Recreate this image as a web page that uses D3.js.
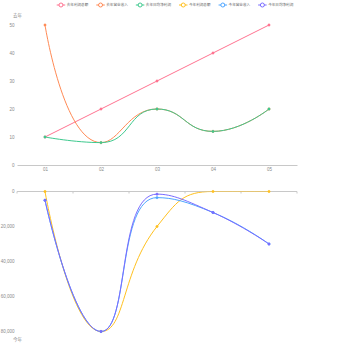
<!DOCTYPE html>
<html><head><meta charset="utf-8">
<script src="https://cdn.jsdelivr.net/npm/d3@7"></script>
<style>html,body{margin:0;padding:0;background:#fff;}svg{display:block;font-family:"Noto Sans CJK SC","Noto Sans",sans-serif;}</style>
</head><body>
<svg id="c" width="350" height="350"></svg>
<script>
const categories = ["01","02","03","04","05"];
const seriesNames = ["去年利润总额","去年营业收入","去年日均净利润","今年利润总额","今年营业收入","今年日均净利润"];
const lastProfit = [10,20,30,40,50];
const lastRevenue = [50,8,20,12,20];
const lastDailyNet = [10,8,20,12,20];
const thisProfit = [0,80000,20000,0,0];
const thisRevenue = [5000,80000,3500,12000,30000];
const thisDailyNet = [5000,80000,1500,12000,30000];
const topTicks = [0,10,20,30,40,50];
const bottomTicks = [0,20000,40000,60000,80000];
const colors = ["#ff7391","#ff8a55","#3ec98e","#ffc01f","#4ea6ff","#7a6cff"];

const svg = d3.select("#c");
const L = 17, R = 297;
const x = d3.scalePoint().domain(categories).range([L,R]).padding(0.5);
const xb = d3.scaleBand().domain(categories).range([L,R]);
const yTop = d3.scaleLinear().domain([0,50]).range([165,25]);
const yBot = d3.scaleLinear().domain([0,80000]).range([191.5,331.5]);
const labelColor = "#8a8a8a", axisColor = "#c8c8c8";

// ECharts-like smooth path
function ecPath(pts, smooth){
  const p = d3.path();
  let prevX, prevY, cpx0, cpy0, cpx1, cpy1, nextCpx0, nextCpy0;
  const n = pts.length;
  for(let k=0;k<n;k++){
    const [x0,y0] = pts[k];
    if(k===0){ p.moveTo(x0,y0); cpx0=x0; cpy0=y0; }
    else if(!smooth){ p.lineTo(x0,y0); }
    else {
      if(k===n-1){ cpx1=x0; cpy1=y0; }
      else {
        const [nx,ny] = pts[k+1];
        let vx = nx-prevX, vy = ny-prevY;
        const dx0=x0-prevX, dx1=nx-x0, dy0=y0-prevY, dy1=ny-y0;
        const lp=Math.hypot(dx0,dy0), ln=Math.hypot(dx1,dy1);
        const r = ln/(ln+lp);
        nextCpx0 = x0+vx*smooth*r; nextCpy0 = y0+vy*smooth*r;
        nextCpx0 = Math.min(nextCpx0, Math.max(nx,x0)); nextCpy0 = Math.min(nextCpy0, Math.max(ny,y0));
        nextCpx0 = Math.max(nextCpx0, Math.min(nx,x0)); nextCpy0 = Math.max(nextCpy0, Math.min(ny,y0));
        vx = nextCpx0-x0; vy = nextCpy0-y0;
        cpx1 = x0 - vx*lp/ln; cpy1 = y0 - vy*lp/ln;
        cpx1 = Math.min(cpx1, Math.max(prevX,x0)); cpy1 = Math.min(cpy1, Math.max(prevY,y0));
        cpx1 = Math.max(cpx1, Math.min(prevX,x0)); cpy1 = Math.max(cpy1, Math.min(prevY,y0));
        vx = x0-cpx1; vy = y0-cpy1;
        nextCpx0 = x0 + vx*ln/lp; nextCpy0 = y0 + vy*ln/lp;
      }
      p.bezierCurveTo(cpx0,cpy0,cpx1,cpy1,x0,y0);
      cpx0=nextCpx0; cpy0=nextCpy0;
    }
    prevX=x0; prevY=y0;
  }
  return p.toString();
}

// clip paths
const defs = svg.append("defs");
defs.append("clipPath").attr("id","clipTop").append("rect").attr("x",L).attr("y",yTop(50)-3).attr("width",R-L+2).attr("height",yTop(0)-yTop(50)+3);
defs.append("clipPath").attr("id","clipBot").append("rect").attr("x",L).attr("y",yBot(0)).attr("width",R-L+2).attr("height",yBot(80000)-yBot(0)+3);

// top grid axes
const gTopX = svg.append("g").attr("transform",`translate(0,${yTop(0)})`)
  .call(d3.axisBottom(x).tickSize(0).tickSizeOuter(0).tickPadding(3));
gTopX.select(".domain").attr("stroke",axisColor);
gTopX.selectAll("text").attr("fill",labelColor).attr("font-size",4.5).attr("dy","0.71em");

const gTopY = svg.append("g").attr("transform",`translate(${L},0)`)
  .call(d3.axisLeft(yTop).tickValues(topTicks).tickSize(0).tickPadding(2.5));
gTopY.select(".domain").remove();
gTopY.selectAll("text").attr("fill",labelColor).attr("font-size",4.5);
svg.append("text").attr("x",L+0.5).attr("y",16).attr("text-anchor","middle").attr("dominant-baseline","middle")
  .attr("fill",labelColor).attr("font-size",4.5).text("去年");

// bottom grid axes
const gBotX = svg.append("g").attr("transform",`translate(0,${yBot(0)})`);
gBotX.append("line").attr("x1",L).attr("x2",R).attr("stroke",axisColor);
gBotX.selectAll("line.tk").data(categories.concat(["end"])).join("line").attr("class","tk")
  .attr("x1",d=>d==="end"?R:xb(d)).attr("x2",d=>d==="end"?R:xb(d)).attr("y1",0).attr("y2",2).attr("stroke",axisColor);

const gBotY = svg.append("g").attr("transform",`translate(${L},0)`)
  .call(d3.axisLeft(yBot).tickValues(bottomTicks).tickSize(0).tickPadding(2.5).tickFormat(d3.format(",")));
gBotY.select(".domain").remove();
gBotY.selectAll("text").attr("fill",labelColor).attr("font-size",4.5);
svg.append("text").attr("x",L+0.5).attr("y",339.5).attr("text-anchor","middle").attr("dominant-baseline","middle")
  .attr("fill",labelColor).attr("font-size",4.5).text("今年");

// series
const topSeries = [
  {name:seriesNames[0], data:lastProfit, color:colors[0], smooth:0},
  {name:seriesNames[1], data:lastRevenue, color:colors[1], smooth:0.5},
  {name:seriesNames[2], data:lastDailyNet, color:colors[2], smooth:0.5}
];
const botSeries = [
  {name:seriesNames[3], data:thisProfit, color:colors[3], smooth:0.5},
  {name:seriesNames[4], data:thisRevenue, color:colors[4], smooth:0.5},
  {name:seriesNames[5], data:thisDailyNet, color:colors[5], smooth:0.5}
];
function drawSeries(list, y, clip){
  const g = svg.append("g").attr("clip-path",`url(#${clip})`);
  list.forEach(s=>{
    const pts = s.data.map((v,i)=>[x(categories[i]), y(v)]);
    g.append("path").attr("d",ecPath(pts,s.smooth)).attr("fill","none").attr("stroke",s.color).attr("stroke-width",1);
  });
  const gp = svg.append("g");
  list.forEach(s=>{
    gp.selectAll(null).data(s.data).join("circle")
      .attr("cx",(v,i)=>x(categories[i])).attr("cy",v=>y(v)).attr("r",1.2)
      .attr("fill",s.color).attr("stroke",s.color).attr("stroke-width",0.4);
  });
}
drawSeries(topSeries, yTop, "clipTop");
drawSeries(botSeries, yBot, "clipBot");

// legend
const legend = svg.append("g");
const fs = 3.6, iconW = 8.5, gapT = 1.5, gapI = 8;
const items = legend.selectAll("g").data(seriesNames).join("g");
items.append("text").attr("font-size",fs).attr("fill","#666").attr("dominant-baseline","middle").attr("y",5).text(d=>d);
const widths = [];
items.select("text").each(function(){ widths.push(this.getComputedTextLength()); });
const total = d3.sum(widths.map(w=>iconW+gapT+w)) + gapI*(seriesNames.length-1);
let cx = 175 - total/2;
items.each(function(d,i){
  const g = d3.select(this).attr("transform",`translate(${cx},0)`);
  const c = colors[i];
  g.append("line").attr("x1",0).attr("x2",iconW).attr("y1",5).attr("y2",5).attr("stroke",c).attr("stroke-width",1);
  g.append("circle").attr("cx",iconW/2).attr("cy",5).attr("r",2).attr("fill","#fff").attr("stroke",c).attr("stroke-width",1);
  g.select("text").attr("x",iconW+gapT);
  cx += iconW+gapT+widths[i]+gapI;
});
</script>
</body></html>
